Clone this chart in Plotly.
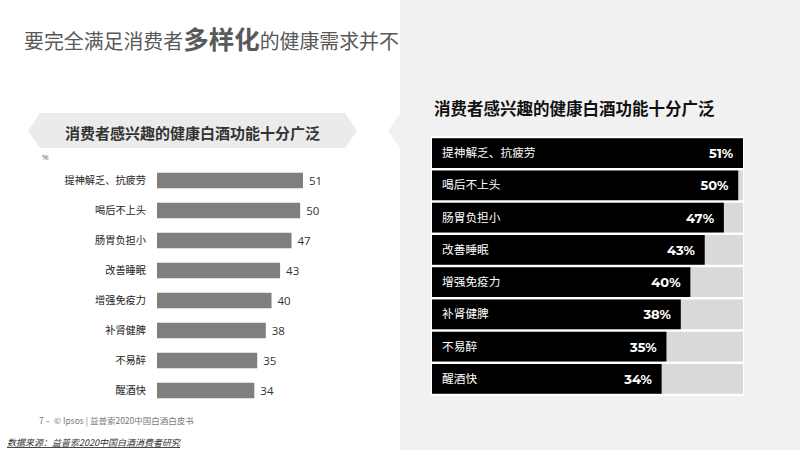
import plotly.graph_objects as go

categories = ["提神解乏、抗疲劳", "喝后不上头", "肠胃负担小", "改善睡眠", "增强免疫力", "补肾健脾", "不易醉", "醒酒快"]
values = [51, 50, 47, 43, 40, 38, 35, 34]

left_title_a = "要完全满足消费者"
left_title_b = "多样化"
left_title_c = "的健康需求并不"
chart_title = "消费者感兴趣的健康白酒功能十分广泛"
unit_label = "%"
footer_text = "7 –  © Ipsos | 益普索2020中国白酒白皮书"
source_text = "数据来源：益普索2020中国白酒消费者研究"

W, H = 800, 450
CJK = "Noto Sans CJK SC"
LANE = -14  # left lane of right-hand bars that holds the category label
FULL = max(values)


def px(x):
    return x / W


def py(y):
    return 1 - y / H


fig = go.Figure()

# left panel: grey bars
fig.add_trace(go.Bar(
    y=categories, x=values, orientation="h",
    marker=dict(color="#7f7f7f", line=dict(width=0)),
    text=["\u00a0" + str(v) for v in values], textposition="outside",
    textfont=dict(family="Open Sans", size=11.5, color="#333333"),
    cliponaxis=False, xaxis="x", yaxis="y", hoverinfo="skip", width=0.52,
))

# right panel: background track and black bars
fig.add_trace(go.Bar(
    y=categories, x=[FULL - LANE] * len(values), base=LANE, orientation="h",
    marker=dict(color="#d9d9d9", line=dict(width=0)),
    xaxis="x2", yaxis="y2", hoverinfo="skip", width=0.93,
))
fig.add_trace(go.Bar(
    y=categories, x=[v - LANE for v in values], base=LANE, orientation="h",
    marker=dict(color="#000000", line=dict(width=0)),
    customdata=values, texttemplate="<b>%{customdata}%</b>\u00a0\u00a0",
    textposition="inside", insidetextanchor="end",
    textfont=dict(family="Montserrat, Open Sans", size=13, color="#ffffff"),
    constraintext="none",
    xaxis="x2", yaxis="y2", hoverinfo="skip", width=0.93,
))

shapes = [
    # right grey panel with a left-pointing notch
    dict(type="path", xref="paper", yref="paper", layer="below",
         path=f"M {px(400)},{py(0)} L {px(800)},{py(0)} L {px(800)},{py(450)} L {px(400)},{py(450)} "
              f"L {px(400)},{py(148)} L {px(388)},{py(131)} L {px(400)},{py(114)} Z",
         fillcolor="#f1f1f1", line=dict(width=0)),
    # white backdrop behind the right chart
    dict(type="rect", xref="paper", yref="paper", layer="below",
         x0=px(431), x1=px(744), y0=py(396), y1=py(136),
         fillcolor="#ffffff", line=dict(width=0)),
    # left subtitle banner
    dict(type="path", xref="paper", yref="paper", layer="below",
         path=f"M {px(28)},{py(131)} L {px(40)},{py(113)} L {px(345)},{py(113)} L {px(357)},{py(131)} "
              f"L {px(345)},{py(148)} L {px(40)},{py(148)} Z",
         fillcolor="#ebebeb", line=dict(width=0)),
]

annotations = [
    dict(x=px(22), y=py(38), xref="paper", yref="paper", xanchor="left", yanchor="middle",
         showarrow=False,
         text=(f"<span style='font-size:19.9px'>{left_title_a}</span>"
               f"<b><span style='font-size:25.5px'>{left_title_b}</span></b>"
               f"<span style='font-size:19.9px'>{left_title_c}</span>"),
         font=dict(family=CJK, size=19.9, color="#595959")),
    dict(x=px(192), y=py(132), xref="paper", yref="paper", xanchor="center", yanchor="middle",
         showarrow=False, text=f"<b>{chart_title}</b>",
         font=dict(family=CJK, size=15, color="#333333")),
    dict(x=px(40), y=py(156), xref="paper", yref="paper", xanchor="left", yanchor="middle",
         showarrow=False, text=unit_label,
         font=dict(family="Open Sans", size=8, color="#666666")),
    dict(x=px(432), y=py(108), xref="paper", yref="paper", xanchor="left", yanchor="middle",
         showarrow=False, text=f"<b>{chart_title}</b>",
         font=dict(family=CJK, size=16.5, color="#111111")),
    dict(x=px(37), y=py(420), xref="paper", yref="paper", xanchor="left", yanchor="middle",
         showarrow=False, text=footer_text,
         font=dict(family=CJK, size=8.5, color="#777777")),
    dict(x=px(5), y=py(442), xref="paper", yref="paper", xanchor="left", yanchor="middle",
         showarrow=False, text=f"<i><u>{source_text}</u></i>",
         font=dict(family=CJK, size=9, color="#333333")),
]

fig.update_layout(
    width=W, height=H,
    margin=dict(l=0, r=0, t=0, b=0),
    paper_bgcolor="#ffffff", plot_bgcolor="rgba(0,0,0,0)",
    showlegend=False, barmode="overlay",
    shapes=shapes, annotations=annotations,
    xaxis=dict(domain=[px(157), px(303)], range=[0, 51], visible=False, fixedrange=True),
    yaxis=dict(domain=[py(405.5), py(165.5)], autorange="reversed", showgrid=False,
               zeroline=False, showline=False, ticks="", ticklabelstandoff=10,
               tickfont=dict(family=CJK, size=10.2, color="#222222"), anchor="x"),
    xaxis2=dict(domain=[px(432), px(743)], range=[LANE, FULL], visible=False, fixedrange=True,
                anchor="y2"),
    yaxis2=dict(domain=[py(395), py(137)], autorange="reversed", showgrid=False,
                zeroline=False, showline=False, ticks="", ticklabelposition="inside",
                ticklabelstandoff=7, anchor="x2",
                tickfont=dict(family=CJK, size=11.7, color="#ffffff")),
)

fig.write_html("out.html", config={"displayModeBar": False},
               post_script="document.body.style.margin='0';document.body.style.overflow='hidden';")
